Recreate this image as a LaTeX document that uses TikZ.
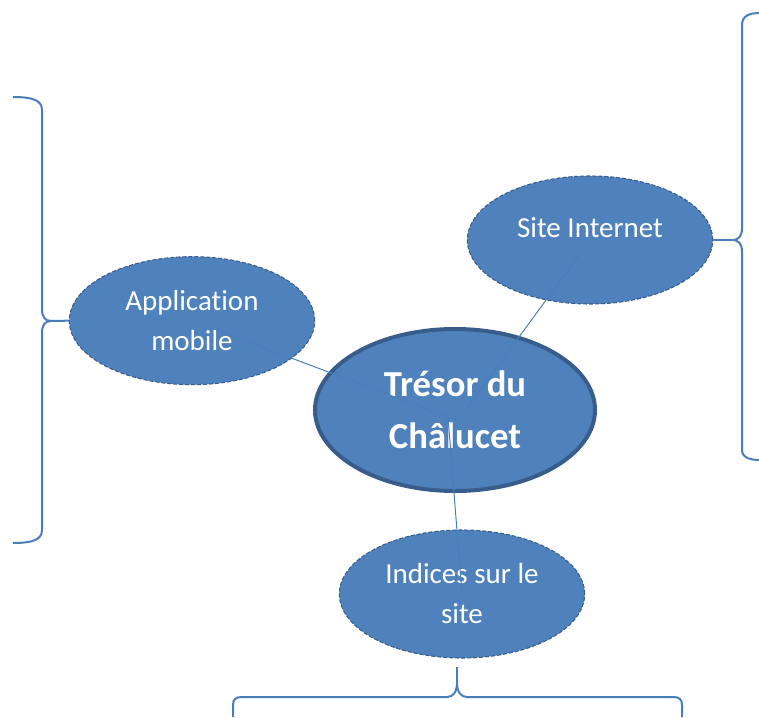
\documentclass[tikz,border=0pt]{standalone}
\usepackage{fontspec}
\setmainfont{Carlito}[Ligatures=NoCommon]
\usepackage{tikz}
\usetikzlibrary{shapes,calc}
\definecolor{wordblue}{HTML}{4F81BD}
\definecolor{wordedge}{HTML}{385D8A}
\definecolor{wordline}{HTML}{4A7EBB}
\tikzstyle{topic} = [ellipse, draw=wordedge, fill=wordblue, line width=3pt,
    minimum width=210pt, minimum height=121.5pt, text=white, align=center,
    font=\fontsize{27.5}{39}\selectfont\bfseries]
\tikzstyle{idea} = [ellipse, draw=wordedge, fill=wordblue, line width=0.8pt,
    dash pattern=on 3pt off 1.5pt, minimum width=184pt, minimum height=96pt,
    text=white, align=center, font=\fontsize{21.75}{30}\selectfont]
\tikzstyle{link} = [draw=wordline, line width=0.75pt]
\tikzstyle{accolade} = [draw=wordline, line width=1.5pt]

\begin{document}
\begin{tikzpicture}[x=0.75pt, y=-0.75pt]
  \useasboundingbox (0,0) rectangle (759,717);
  % Place nodes
  \node [topic] (tresor) at (455,410) {Trésor du\\Châlucet};
  \node [idea, left of=tresor, node distance=197.25pt, yshift=67pt] (app) {Application\\mobile};
  \node [idea, right of=tresor, node distance=101.25pt, yshift=127.5pt] (site) {Site Internet\\[-12pt]\mbox{}};
  \node [idea, below of=tresor, node distance=138pt, xshift=5.25pt] (indices) {Indices sur le\\site};

  % links to the centre
  \coordinate (hub) at (448,417);
  \coordinate (hubSite) at (467,408);
  \path [link] ($(app)!0.1!(hub)$) -- (hub) -- ($(hub)!0.98!(indices)$);
  \path [link] ($(site)!0.08!(hubSite)$) -- (hubSite);

  % left accolade
  \coordinate (leftTip) at (51,321);
  \path [accolade] (13,97) .. controls (32,97) and (42,100) .. (42,110) -- (42,309)
      .. controls (42,317) and (45,321) .. (leftTip) .. controls (45,321) and (42,325) .. (42,333)
      -- (42,530) .. controls (42,540) and (32,543) .. (13,543);
  \path [accolade] (leftTip) -- (app.west);

  % right accolade
  \coordinate (rightTip) at (732,240);
  \path [accolade] (760,13) .. controls (749,13) and (742,16) .. (742,25) -- (742,228)
      .. controls (742,236) and (739,240) .. (rightTip) .. controls (739,240) and (742,244) .. (742,252)
      -- (742,450) .. controls (742,457) and (749,460) .. (760,460);
  \path [accolade] (rightTip) -- (site.east);

  % bottom accolade
  \coordinate (bottomTip) at (457,683);
  \coordinate (bottomEnd) at (457,667);
  \path [accolade] (233,717) -- (233,705) .. controls (233,699) and (236,697) .. (242,697) -- (447,697)
      .. controls (453,697) and (457,692) .. (bottomTip) .. controls (457,692) and (461,697) .. (467,697)
      -- (673,697) .. controls (679,697) and (682,699) .. (682,705) -- (682,717);
  \path [accolade] (bottomTip) -- (bottomEnd);
\end{tikzpicture}
\end{document}
